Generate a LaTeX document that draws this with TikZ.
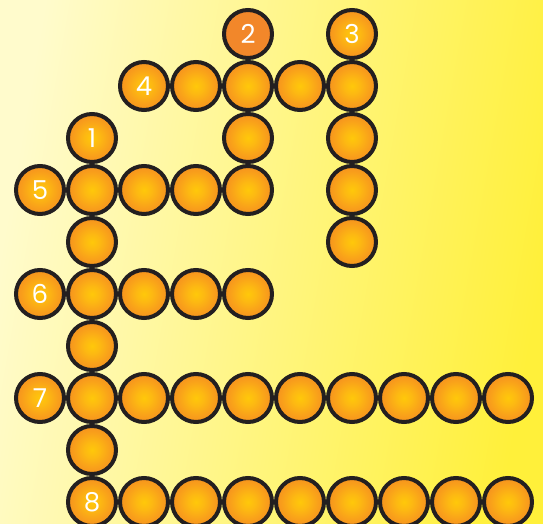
\documentclass[tikz,border=0pt]{standalone}
\usepackage{fontspec}
\setmainfont{Poppins}
\definecolor{bgl}{HTML}{FFFBCC}
\definecolor{bgr}{HTML}{FFF03A}
\definecolor{ballc}{HTML}{FFC80A}
\definecolor{ballm}{HTML}{FDB912}
\definecolor{ballo}{HTML}{F9A11A}
\definecolor{balle}{HTML}{F6921E}
\definecolor{ballflat}{HTML}{F2872A}
\definecolor{rim}{HTML}{231F20}
\pgfdeclareradialshading{ballshade}{\pgfpoint{0bp}{0bp}}{color(0bp)=(ballc); color(8bp)=(ballm); color(18bp)=(ballo); color(25bp)=(balle); color(50bp)=(balle)}
\tikzset{
  ball/.style={circle, draw=rim, line width=4pt, minimum size=48pt, inner sep=0pt, shading=ballshade, text=white, font=\fontsize{26}{26}\selectfont},
  flatball/.style={circle, draw=rim, line width=4pt, minimum size=48pt, inner sep=0pt, fill=ballflat, text=white, font=\fontsize{26}{26}\selectfont},
}
\begin{document}
\begin{tikzpicture}[x=1pt,y=-1pt]
\useasboundingbox (0,0) rectangle (543,524);
\shade[left color=bgl, right color=bgr, shading angle=80] (0,0) rectangle (543,524);
\def\cx#1{40+52*#1}
\def\cy#1{34+52*#1}
% row 0
\node[flatball] (n2) at ({\cx{4}},{\cy{0}}) {2};
\node[ball] (n3) at ({\cx{6}},{\cy{0}}) {3};
% row 1
\node[ball] (n4) at ({\cx{2}},{\cy{1}}) {4};
\foreach \c in {3,4,5,6} \node[ball] (r1c\c) at ({\cx{\c}},{\cy{1}}) {};
% row 2
\node[ball] (n1) at ({\cx{1}},{\cy{2}}) {1};
\node[ball] (r2c4) at ({\cx{4}},{\cy{2}}) {};
\node[ball] (r2c6) at ({\cx{6}},{\cy{2}}) {};
% row 3
\node[ball] (n5) at ({\cx{0}},{\cy{3}}) {5};
\foreach \c in {1,2,3,4,6} \node[ball] (r3c\c) at ({\cx{\c}},{\cy{3}}) {};
% row 4
\node[ball] (r4c1) at ({\cx{1}},{\cy{4}}) {};
\node[ball] (r4c6) at ({\cx{6}},{\cy{4}}) {};
% row 5
\node[ball] (n6) at ({\cx{0}},{\cy{5}}) {6};
\foreach \c in {1,2,3,4} \node[ball] (r5c\c) at ({\cx{\c}},{\cy{5}}) {};
% row 6
\node[ball] (r6c1) at ({\cx{1}},{\cy{6}}) {};
% row 7
\node[ball] (n7) at ({\cx{0}},{\cy{7}}) {7};
\foreach \c in {1,...,9} \node[ball] (r7c\c) at ({\cx{\c}},{\cy{7}}) {};
% row 8
\node[ball] (r8c1) at ({\cx{1}},{\cy{8}}) {};
% row 9
\node[ball] (n8) at ({\cx{1}},{\cy{9}}) {8};
\foreach \c in {2,...,9} \node[ball] (r9c\c) at ({\cx{\c}},{\cy{9}}) {};
\end{tikzpicture}
\end{document}
